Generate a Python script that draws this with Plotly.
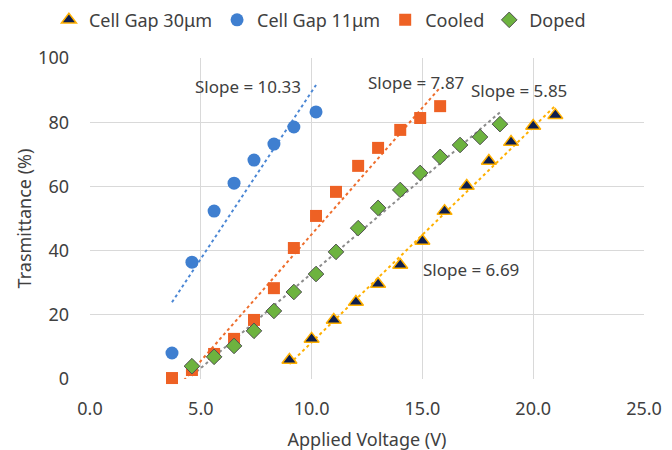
import numpy as np
import plotly.graph_objects as go

# ---- data ----
gap30_v = [9.0, 10.0, 11.0, 12.0, 13.0, 14.0, 15.0, 16.0, 17.0, 18.0, 19.0, 20.0, 21.0]
gap30_t = [5.9, 12.5, 18.4, 24.0, 29.6, 35.5, 43.0, 52.3, 60.1, 67.9, 73.8, 78.8, 82.2]

gap11_v = [3.7, 4.6, 5.6, 6.5, 7.4, 8.3, 9.2, 10.2]
gap11_t = [8.1, 36.4, 52.3, 61.0, 68.2, 73.2, 78.5, 83.2]

cooled_v = [3.7, 4.6, 5.6, 6.5, 7.4, 8.3, 9.2, 10.2, 11.1, 12.1, 13.0, 14.0, 14.9, 15.8]
cooled_t = [0.3, 2.8, 7.8, 12.5, 18.4, 28.3, 40.8, 50.8, 58.3, 66.4, 72.0, 77.6, 81.3, 85.0]

doped_v = [4.6, 5.6, 6.5, 7.4, 8.3, 9.2, 10.2, 11.1, 12.1, 13.0, 14.0, 14.9, 15.8, 16.7, 17.6, 18.5]
doped_t = [4.0, 6.9, 10.3, 15.0, 21.2, 27.1, 32.7, 39.6, 47.0, 53.3, 58.9, 64.2, 69.2, 72.9, 75.4, 79.4]

slope_labels = ["Slope = 10.33", "Slope = 7.87", "Slope = 5.85", "Slope = 6.69"]
slope_pos_x = [7.15, 14.7, 19.35, 17.2]
slope_pos_y = [91.0, 92.5, 90.0, 34.0]

x_ticks = [0, 5, 10, 15, 20, 25]
x_tick_text = ["0.0", "5.0", "10.0", "15.0", "20.0", "25.0"]
y_ticks = [0, 20, 40, 60, 80, 100]

FONT = "Noto Sans"
TXT = "#404040"

fig = go.Figure()


def trend(xs, ys, color):
    k, b = np.polyfit(xs, ys, 1)
    xx = np.array([min(xs), max(xs)])
    fig.add_trace(go.Scatter(x=xx, y=k * xx + b, mode="lines",
                             line=dict(color=color, width=2, dash="dot"),
                             showlegend=False, hoverinfo="skip"))


trend(gap11_v, gap11_t, "#4A86D4")
trend(cooled_v, cooled_t, "#EE6E2D")
trend(doped_v, doped_t, "#8C8C8C")
trend(gap30_v, gap30_t, "#FFB000")

fig.add_trace(go.Scatter(x=gap30_v, y=gap30_t, mode="markers", name="Cell Gap 30μm",
                         marker=dict(symbol="triangle-up", size=13, color="#0E1E4E",
                                     line=dict(color="#FFB000", width=1.5)),
                         cliponaxis=False))
fig.add_trace(go.Scatter(x=gap11_v, y=gap11_t, mode="markers", name="Cell Gap 11μm",
                         marker=dict(symbol="circle", size=13, color="#3F7FD0"),
                         cliponaxis=False))
fig.add_trace(go.Scatter(x=cooled_v, y=cooled_t, mode="markers", name="Cooled",
                         marker=dict(symbol="square", size=12, color="#EE6124"),
                         cliponaxis=False))
fig.add_trace(go.Scatter(x=doped_v, y=doped_t, mode="markers", name="Doped",
                         marker=dict(symbol="diamond", size=12, color="#6DB33F",
                                     line=dict(color="#505050", width=1)),
                         cliponaxis=False))

for t, x, y in zip(slope_labels, slope_pos_x, slope_pos_y):
    fig.add_annotation(x=x, y=y, text=t, showarrow=False,
                       font=dict(family=FONT, size=17, color=TXT))

fig.update_layout(
    width=672, height=450,
    margin=dict(l=82, r=36, t=50, b=79, autoexpand=False),
    paper_bgcolor="white", plot_bgcolor="white",
    font=dict(family=FONT, color=TXT, size=18),
    legend=dict(orientation="h", x=0.415, xanchor="center",
                yref="container", y=0.973, yanchor="middle",
                font=dict(family=FONT, size=18, color=TXT), itemwidth=30,
                tracegroupgap=0),
    xaxis=dict(range=[0, 25], tickvals=x_ticks, ticktext=x_tick_text,
               showgrid=True, gridcolor="#D9D9D9", gridwidth=1,
               zeroline=False, showline=False, ticks="", automargin=False,
               tickfont=dict(family=FONT, size=18, color=TXT),
               ticklabelstandoff=17,
               title=dict(text="Applied Voltage (V)", standoff=14,
                          font=dict(family=FONT, size=18, color=TXT))),
    yaxis=dict(range=[0, 100], tickvals=y_ticks,
               showgrid=True, gridcolor="#D9D9D9", gridwidth=1,
               zeroline=False, showline=False, ticks="", automargin=False,
               tickfont=dict(family=FONT, size=18, color=TXT),
               ticklabelstandoff=20,
               title=dict(text="Trasmittance (%)", standoff=1,
                          font=dict(family=FONT, size=18, color=TXT))),
)

fig.write_html("out.html")
